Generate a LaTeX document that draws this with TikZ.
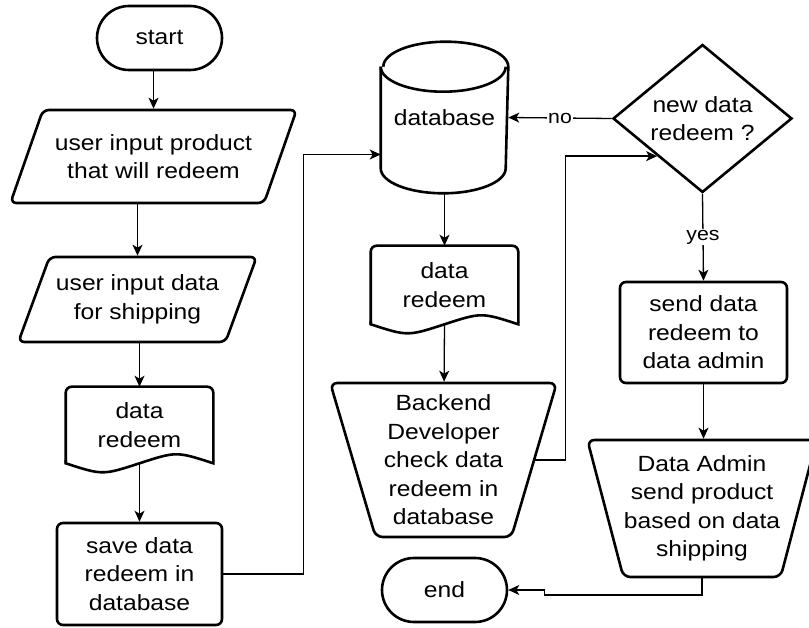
\documentclass[tikz,border=0pt]{standalone}
\usepackage{fontspec}
\setmainfont{Liberation Sans}[FakeStretch=1.12]
\usetikzlibrary{shapes.geometric,shapes.misc,arrows.meta,calc}
\tikzset{
    shape-line/.style = {draw=black, line width=2.6pt, align=center, inner sep=0pt, font=\fontsize{22}{28.5}\selectfont},
    terminal-box/.style = {shape-line, rounded rectangle, minimum width=125pt, minimum height=64pt},
    io-box/.style = {shape-line, trapezium, trapezium stretches=true, rounded corners=6pt},
    manual-box/.style = {shape-line, trapezium, trapezium stretches=true, shape border rotate=180, rounded corners=7pt},
    process-box/.style = {shape-line, rectangle, rounded corners=6pt},
    doc-box/.style = {shape-line, draw=none, minimum width=145pt},
    decision-box/.style = {shape-line, diamond, aspect=1.21, minimum width=179pt, minimum height=148pt},
    conn/.style = {-{Stealth[length=11pt,width=10pt,inset=3pt]}, line width=1.3pt},
    branch-label/.style = {fill=white, inner sep=1pt, font=\fontsize{19}{20}\selectfont},
}
% wavy document outline around a node
\newcommand{\docshape}[1]{%
    \draw[line width=2.6pt, rounded corners=6pt] (#1.south west) -- (#1.north west) -- (#1.north east) -- ([yshift=2pt]#1.south east);
    \draw[line width=2.6pt] ([yshift=3pt]#1.south east) -- (#1.south east)
        .. controls ($(#1.south east)!0.5!(#1.south)+(0pt,12pt)$) .. (#1.south)
        .. controls ($(#1.south)!0.5!(#1.south west)+(0pt,-12pt)$) .. (#1.south west) -- ([yshift=3pt]#1.south west);}
% cylinder outline around a node
\newcommand{\dbshape}[1]{%
    \draw[line width=2.6pt] ([yshift=-25pt]#1.north west) -- ([yshift=25pt]#1.south west)
        arc[start angle=180, end angle=360, x radius=62.5pt, y radius=25pt]
        -- ([yshift=-25pt]#1.north east)
        arc[start angle=0, end angle=180, x radius=62.5pt, y radius=25pt];
    \draw[line width=2.6pt] ([yshift=-25pt]#1.north west)
        arc[start angle=180, end angle=360, x radius=62.5pt, y radius=25pt];}

\begin{document}
\begin{tikzpicture}[x=1pt, y=-1pt]
\useasboundingbox (0,0) rectangle (809,628);

% left column
\node[terminal-box] (start) at (159.5,38) {start};
\node[io-box, trapezium left angle=57, trapezium right angle=123, minimum width=287pt, minimum height=93pt] (input-product) at (153.5,156.5) {user input product\\that will redeem};
\node[io-box, trapezium left angle=59.5, trapezium right angle=120.5, minimum width=239pt, minimum height=85pt] (input-shipping) at (137.5,299.5) {user input data\\for shipping};
\node[doc-box, minimum height=74pt] (redeem-doc) at (139.5,425) {data\\redeem};
\docshape{redeem-doc}
\node[process-box, minimum width=165pt, minimum height=102pt] (save) at (139.5,574) {save data\\redeem in\\database};

% middle column
\node[doc-box, minimum width=125pt, minimum height=149pt] (db) at (444.5,117.5) {database};
\dbshape{db}
\node[doc-box, minimum height=76pt] (redeem-doc2) at (444.5,285) {data\\redeem};
\docshape{redeem-doc2}
\node[manual-box, trapezium left angle=73, trapezium right angle=73, minimum width=227pt, minimum height=154pt] (backend) at (443.5,460) {Backend\\Developer\\check data\\redeem in\\database};
\node[terminal-box] (end) at (444.5,590) {end};

% right column
\node[decision-box] (new-data) at (702.5,118.5) {new data\\redeem ?};
\node[process-box, minimum width=167pt, minimum height=101pt] (send) at (703.5,332.5) {send data\\redeem to\\data admin};
\node[manual-box, trapezium left angle=71.4, trapezium right angle=71.4, minimum width=230pt, minimum height=137pt] (admin) at (702,508.5) {Data Admin\\send product\\based on data\\shipping};

% connectors
\draw[conn] (input-product.north |- start.south) -- (input-product.north);
\draw[conn] (input-shipping.north |- input-product.south) -- (input-shipping.north);
\draw[conn] (redeem-doc.north |- input-shipping.south) -- (redeem-doc.north);
\draw[conn] (redeem-doc.south) -- (save.north);
\draw[conn] (save.east) -- ++(80,0) |- ([yshift=-37pt]db.west);
\draw[conn] (db.south) -- (redeem-doc2.north);
\draw[conn] (redeem-doc2.south) -- (backend);
\draw[conn] (backend.east) -- ++(30,0) |- (new-data.south west);
\draw[conn] (new-data.west) -- node[branch-label] {no} (db.east);
\draw[conn] (new-data.south) -- node[branch-label] {yes} (send.north);
\draw[conn] (send.south) -- (send.south |- admin.north);
\draw[conn] (admin.south) |- ([xshift=36pt,yshift=-5pt]end.east) |- (end.east);
\end{tikzpicture}
\end{document}
